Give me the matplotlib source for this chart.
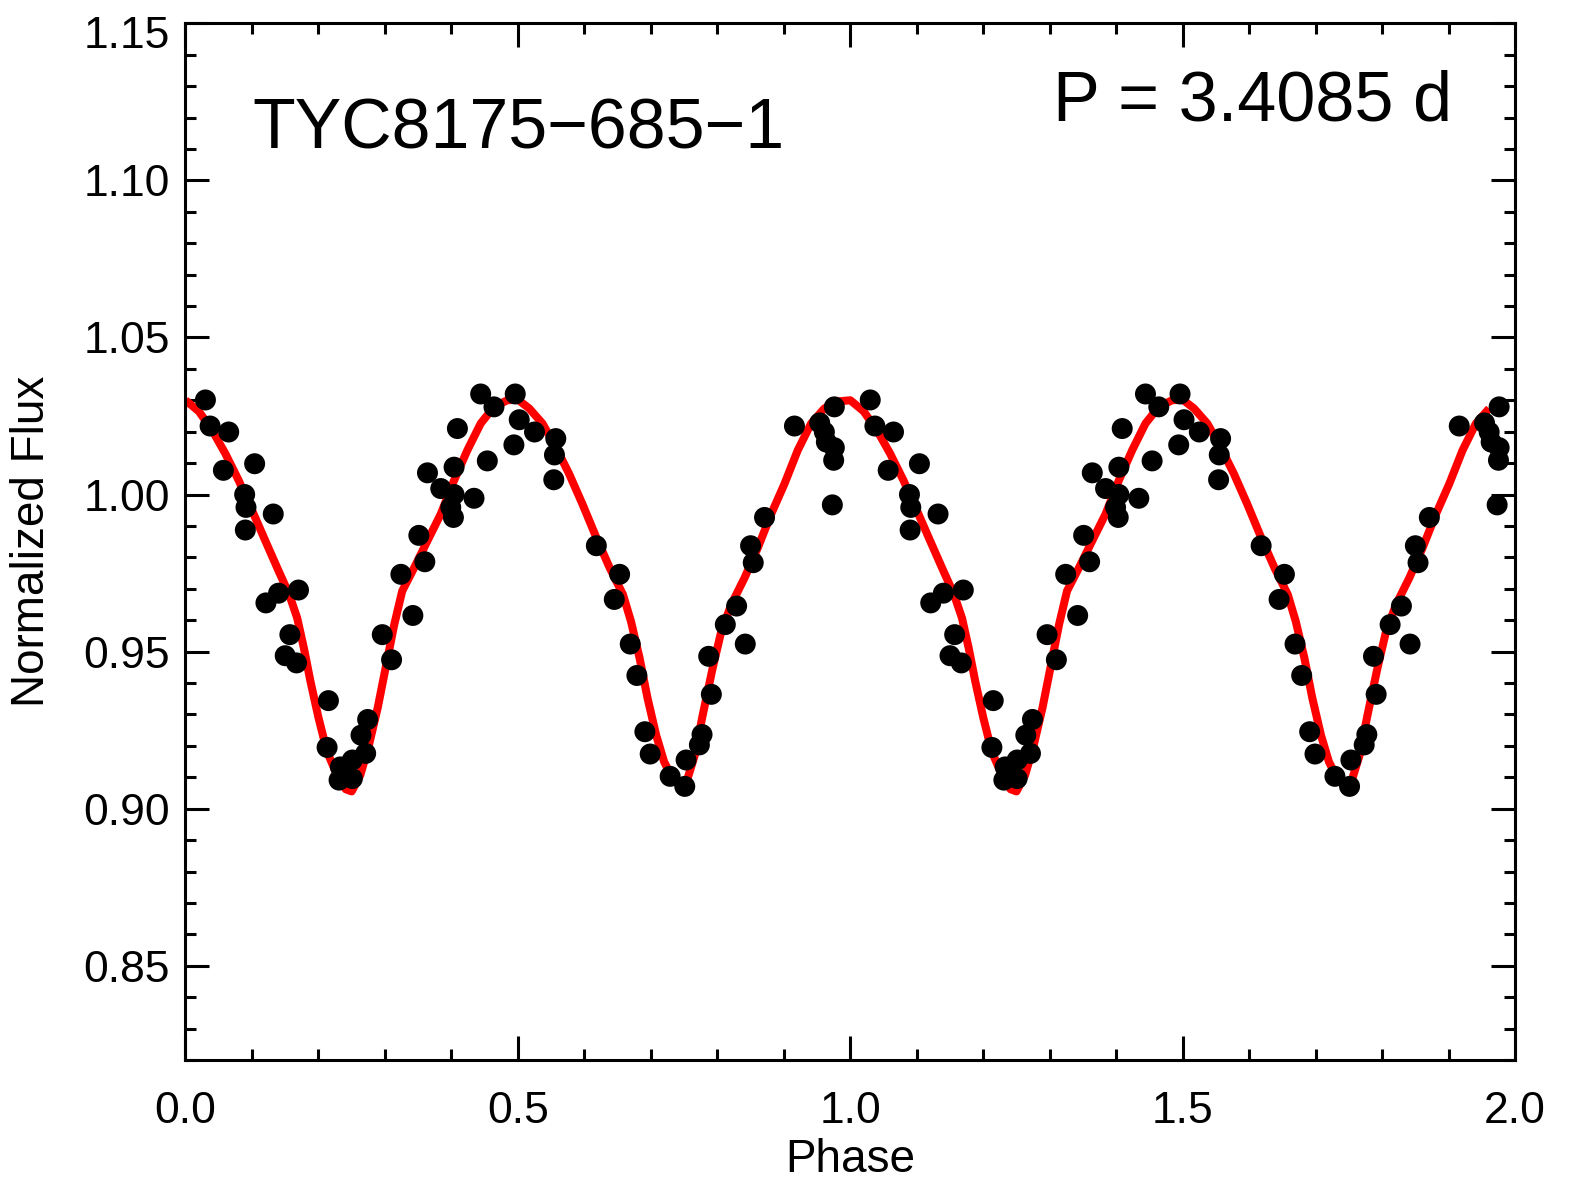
import numpy as np
import matplotlib.pyplot as plt
import matplotlib.transforms as mtransforms
from matplotlib.ticker import MultipleLocator, FormatStrFormatter, FuncFormatter

plt.rcParams['font.family'] = ['Liberation Sans', 'DejaVu Sans']

# phased photometry (phase 0-1)
phase = [0.030, 0.037, 0.065, 0.057, 0.104, 0.089, 0.091, 0.090, 0.132, 0.121,
         0.140, 0.170, 0.157, 0.150, 0.167, 0.215, 0.213, 0.233, 0.251, 0.231,
         0.251, 0.271, 0.264, 0.274, 0.296, 0.310, 0.324, 0.342, 0.351, 0.360,
         0.364, 0.384, 0.404, 0.404, 0.399, 0.403, 0.434, 0.409, 0.454, 0.444,
         0.464, 0.496, 0.502, 0.494, 0.525, 0.557, 0.555, 0.554, 0.618, 0.653,
         0.645, 0.669, 0.679, 0.691, 0.699, 0.729, 0.751, 0.753, 0.773, 0.777,
         0.791, 0.787, 0.812, 0.829, 0.842, 0.850, 0.854, 0.871, 0.916, 0.954,
         0.961, 0.964, 0.976, 0.975, 0.976, 0.973]
flux = [1.0301, 1.0218, 1.0199, 1.0077, 1.0098, 1.0000, 0.9959, 0.9887, 0.9938, 0.9655,
        0.9686, 0.9696, 0.9554, 0.9487, 0.9464, 0.9344, 0.9195, 0.9133, 0.9155, 0.9091,
        0.9096, 0.9176, 0.9234, 0.9284, 0.9554, 0.9474, 0.9746, 0.9615, 0.9870, 0.9786,
        1.0069, 1.0019, 1.0087, 1.0000, 0.9959, 0.9927, 0.9988, 1.0210, 1.0107, 1.0320,
        1.0279, 1.0320, 1.0238, 1.0158, 1.0199, 1.0178, 1.0126, 1.0047, 0.9837, 0.9746,
        0.9666, 0.9524, 0.9424, 0.9245, 0.9174, 0.9103, 0.9071, 0.9155, 0.9203, 0.9236,
        0.9364, 0.9485, 0.9586, 0.9645, 0.9524, 0.9837, 0.9783, 0.9927, 1.0218, 1.0228,
        1.0199, 1.0167, 1.0149, 1.0109, 1.0279, 0.9967]

# model light curve
model_phase = [0.000, 0.020, 0.040, 0.060, 0.080, 0.100, 0.120, 0.140, 0.156, 0.168,
               0.178, 0.188, 0.200, 0.213, 0.228, 0.241, 0.250, 0.263, 0.276, 0.289,
               0.301, 0.314, 0.326, 0.344, 0.364, 0.384, 0.404, 0.424, 0.444, 0.464,
               0.484, 0.500, 0.517, 0.537, 0.557, 0.577, 0.597, 0.618, 0.638, 0.658,
               0.670, 0.683, 0.695, 0.708, 0.720, 0.733, 0.750, 0.766, 0.778, 0.793,
               0.806, 0.821, 0.841, 0.861, 0.881, 0.901, 0.921, 0.941, 0.961, 0.980,
               1.000]
model_flux = [1.0300, 1.0265, 1.0205, 1.0130, 1.0045, 0.9950, 0.9853, 0.9757, 0.9682, 0.9607,
              0.9512, 0.9405, 0.9290, 0.9181, 0.9107, 0.9062, 0.9055, 0.9107, 0.9203, 0.9320,
              0.9448, 0.9586, 0.9693, 0.9767, 0.9853, 0.9938, 1.0045, 1.0141, 1.0226, 1.0279,
              1.0300, 1.0302, 1.0274, 1.0226, 1.0151, 1.0066, 0.9970, 0.9863, 0.9767, 0.9682,
              0.9597, 0.9480, 0.9352, 0.9234, 0.9149, 0.9096, 0.9060, 0.9170, 0.9298, 0.9448,
              0.9565, 0.9650, 0.9735, 0.9831, 0.9938, 1.0034, 1.0141, 1.0226, 1.0274, 1.0296,
              1.0300]

star = 'TYC8175\u2212685\u22121'
period = 'P = 3.4085 d'

ph = np.array(phase)
fl = np.array(flux)
mp = np.array(model_phase)
mf = np.array(model_flux)

fig = plt.figure(figsize=(15.72, 11.86), dpi=100)
ax = fig.add_axes([0.118, 0.1062, 0.8458, 0.8742])

# two cycles; model stops at the last observed phase
second = mp <= ph.max() + 0.0001
ax.plot(np.concatenate([mp, mp[1:][second[1:]] + 1]),
        np.concatenate([mf, mf[1:][second[1:]]]),
        color='red', lw=5.8, solid_joinstyle='round', solid_capstyle='butt', zorder=2)
ax.scatter(np.concatenate([ph, ph + 1]), np.concatenate([fl, fl]),
           s=228, color='black', edgecolors='none', zorder=3)

ax.set_xlim(0, 2.0)
ax.set_ylim(0.82, 1.15)
ax.xaxis.set_major_locator(MultipleLocator(0.5))
ax.xaxis.set_minor_locator(MultipleLocator(0.1))
ax.yaxis.set_major_locator(MultipleLocator(0.05))
ax.yaxis.set_minor_locator(MultipleLocator(0.01))
ax.xaxis.set_major_formatter(FormatStrFormatter('%.1f'))
# top label is drawn separately, shifted down like the original
ax.yaxis.set_major_formatter(FuncFormatter(lambda v, p: '' if v > 1.145 else '%.2f' % v))

ax.tick_params(which='both', direction='in', top=True, right=True, width=2.2,
               labelsize=32, color='black')
ax.tick_params(axis='y', which='major', length=17.5, pad=11)
ax.tick_params(axis='y', which='minor', length=8)
ax.tick_params(axis='x', which='major', length=17.5, pad=22.5)
ax.tick_params(axis='x', which='minor', length=8)
for s in ax.spines.values():
    s.set_linewidth(2.2)

off = mtransforms.ScaledTranslation(-11 / 72, -0.13, fig.dpi_scale_trans)
ax.text(0, 1.15, '1.15', transform=ax.get_yaxis_transform() + off,
        fontsize=32, ha='right', va='center')

ax.set_xlabel('Phase', fontsize=33, labelpad=4)
ax.set_ylabel('Normalized Flux', fontsize=33, labelpad=21)

ax.text(0.0505, 1.110, star, transform=ax.get_yaxis_transform(), fontsize=50.3)
ax.text(0.953, 1.119, period, transform=ax.get_yaxis_transform(), fontsize=50.6,
        ha='right')

fig.savefig('out.png', dpi=100)
